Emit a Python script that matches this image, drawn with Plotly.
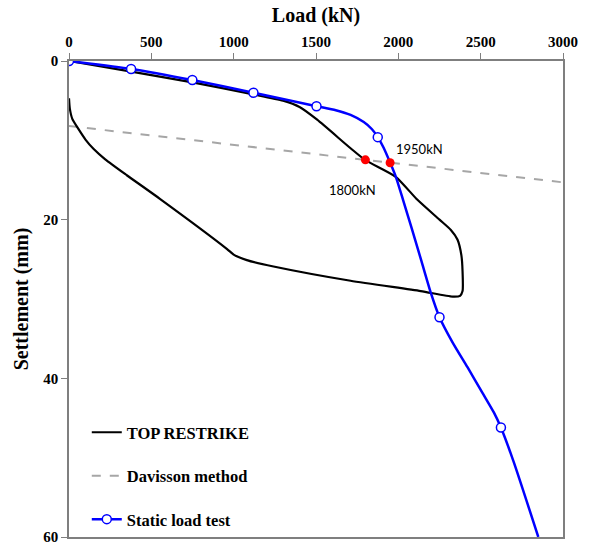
import plotly.graph_objects as go

# Static load test measured points
slt_load = [0, 377, 749, 1120, 1503, 1875, 2250, 2623]
slt_settle = [0, 1.0, 2.4, 4.0, 5.7, 9.6, 32.3, 46.2]

# Static load test traced curve
slt_curve_load = [0, 377, 749, 1120, 1503, 1620, 1710, 1790, 1840, 1875, 1910, 1950, 1985,
                  2030, 2080, 2140, 2197, 2250, 2330, 2420, 2510, 2580, 2623, 2700, 2850]
slt_curve_settle = [0, 1.0, 2.4, 4.0, 5.7, 6.2, 6.8, 7.7, 8.6, 9.6, 10.9, 12.8, 14.6,
                    17.6, 21.0, 25.2, 29.2, 32.3, 35.5, 38.6, 41.8, 44.3, 46.2, 50.5, 60.0]

# TOP RESTRIKE traced curve (loading, then unloading)
top_load = [0, 370, 750, 1120, 1300, 1400, 1507, 1710, 1800, 1984, 2116, 2250, 2319, 2359,
            2383, 2390, 2390, 2375, 2330, 2136, 1710, 1242, 1080, 1000, 960, 554, 351,
            220, 150, 100, 55, 20, 5, 0]
top_settle = [0, 1.3, 2.7, 4.2, 5.0, 5.8, 7.4, 11.0, 12.5, 14.6, 17.5, 20.0, 21.3, 22.5,
              24.5, 26.5, 29.0, 29.6, 29.7, 29.0, 27.7, 25.9, 25.1, 24.4, 23.7, 17.4, 14.4,
              12.4, 11.1, 9.9, 8.5, 7.3, 6.0, 4.7]

# Davisson method line
dav_load = [0, 3000]
dav_settle = [8.2, 15.3]

# Intersections
int_load = [1800, 1950]
int_settle = [12.46, 12.82]
int_labels = ["1800kN", "1950kN"]
lab_load = [1722, 2130]
lab_settle = [16.3, 11.1]

BLUE = "#0000FF"
serif = "Liberation Serif, Times New Roman, serif"

fig = go.Figure()

fig.add_trace(go.Scatter(x=dav_load, y=dav_settle, mode="lines", name="Davisson method",
                         line=dict(color="#A6A6A6", width=2, dash="dash"),
                         showlegend=False))
fig.add_trace(go.Scatter(x=top_load, y=top_settle, mode="lines", name="TOP RESTRIKE",
                         line=dict(color="black", width=2.2, shape="spline", smoothing=0.6),
                         showlegend=False))
fig.add_trace(go.Scatter(x=slt_curve_load, y=slt_curve_settle, mode="lines",
                         line=dict(color=BLUE, width=2.5, shape="spline", smoothing=0.6),
                         showlegend=False))
fig.add_trace(go.Scatter(x=slt_load, y=slt_settle, mode="markers",
                         marker=dict(size=9, color="white", line=dict(color=BLUE, width=1.5)),
                         showlegend=False))
fig.add_trace(go.Scatter(x=int_load, y=int_settle, mode="markers",
                         marker=dict(size=9, color="#FF0000"), showlegend=False))

# legend entries
fig.add_trace(go.Scatter(x=[None], y=[None], mode="lines", name="TOP RESTRIKE",
                         legendgroup="a", line=dict(color="black", width=2)))
fig.add_trace(go.Scatter(x=[None], y=[None], mode="lines", name="Davisson method",
                         legendgroup="b", line=dict(color="#A6A6A6", width=2, dash="dash")))
fig.add_trace(go.Scatter(x=[None], y=[None], mode="lines+markers", name="Static load test",
                         legendgroup="c", line=dict(color=BLUE, width=2.5),
                         marker=dict(size=9, color="white", line=dict(color=BLUE, width=1.5))))

for t, xv, yv in zip(int_labels, lab_load, lab_settle):
    fig.add_annotation(x=xv, y=yv, text=t, showarrow=False,
                       font=dict(family="Lato, Open Sans, sans-serif", size=13, color="black"))

fig.update_layout(
    width=590, height=546,
    margin=dict(l=69, r=27, t=61, b=9, autoexpand=False),
    paper_bgcolor="white", plot_bgcolor="white",
    xaxis=dict(side="top", range=[0, 3000], tickvals=[0, 500, 1000, 1500, 2000, 2500, 3000],
               showgrid=False, zeroline=False, showline=True, linecolor="#7f7f7f", linewidth=1.5,
               mirror=True, ticks="outside", ticklen=6, tickcolor="#7f7f7f",
               tickfont=dict(family=serif, size=15, color="black", weight="bold"),
               title=dict(text="Load (kN)",
                          font=dict(family=serif, size=20, color="black", weight="bold"),
                          standoff=6)),
    yaxis=dict(range=[60, 0], tickvals=[0, 20, 40, 60],
               showgrid=False, zeroline=False, showline=True, linecolor="#7f7f7f", linewidth=1.5,
               mirror=True, ticks="outside", ticklen=6, tickcolor="#7f7f7f",
               tickfont=dict(family=serif, size=15, color="black", weight="bold"),
               title=dict(text="Settlement (mm)",
                          font=dict(family=serif, size=20, color="black", weight="bold"),
                          standoff=9)),
    legend=dict(x=0.036, y=0.0, xanchor="left", yanchor="bottom", bgcolor="rgba(0,0,0,0)",
                traceorder="grouped", tracegroupgap=19,
                font=dict(family=serif, size=16.5, color="black", weight="bold"), itemwidth=30),
    showlegend=True,
)

fig.write_html("out.html", config={"displayModeBar": False},
               post_script="document.body.style.margin='0';")
